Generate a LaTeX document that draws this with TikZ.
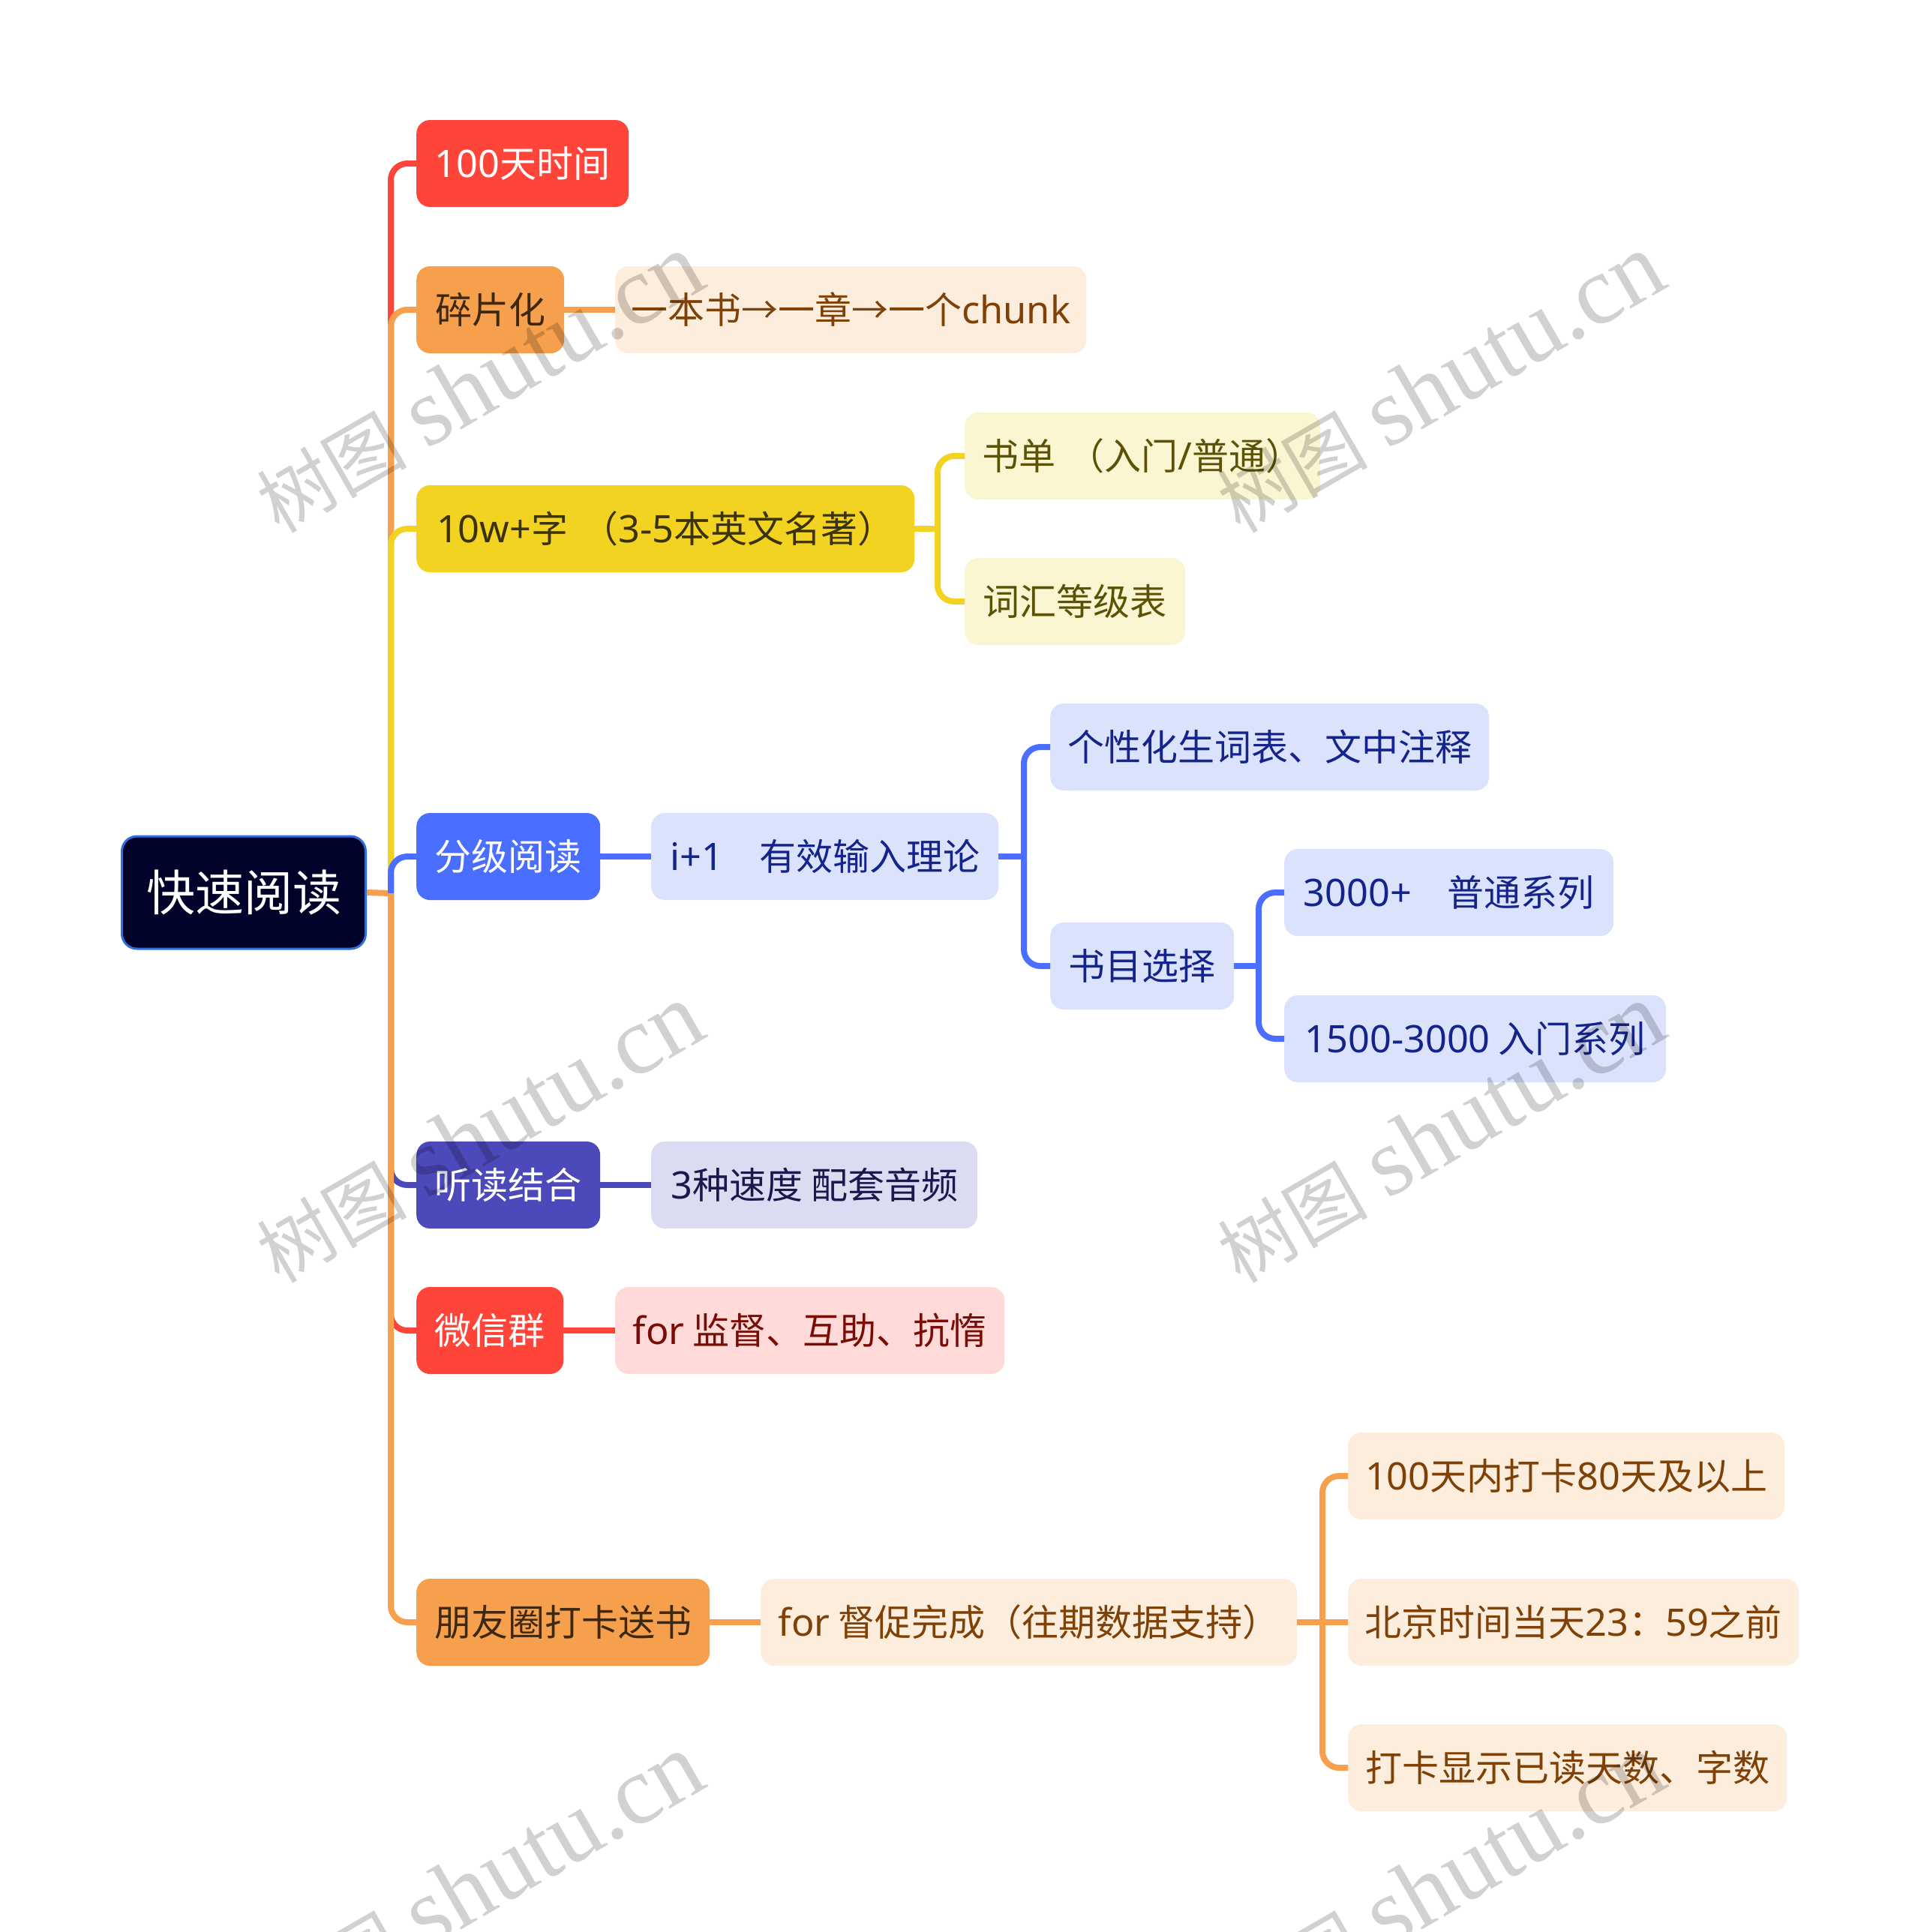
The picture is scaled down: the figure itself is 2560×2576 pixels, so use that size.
\documentclass[tikz,border=0pt]{standalone}
\usepackage{xcolor}
\usepackage{fontspec}
\usepackage{tikz}
\usetikzlibrary{positioning,calc}
\setmainfont{Noto Sans CJK SC}
\newfontfamily\latfont[Scale=1.03]{Noto Sans}
\newfontfamily\wmlatin{Liberation Serif}
\newcommand{\lat}[1]{{\latfont #1}}
\newcommand{\marktext}{{\fontsize{100}{110}\selectfont 树图}\hspace{26pt}{\wmlatin\fontsize{130}{140}\selectfont shutu.cn}}
\definecolor{rootfill}{HTML}{000229}
\definecolor{rootline}{HTML}{2F6FDD}
\definecolor{cred}{HTML}{FF453A}
\definecolor{corange}{HTML}{F6A04D}
\definecolor{cyellow}{HTML}{F3D321}
\definecolor{cblue}{HTML}{4A6EFF}
\definecolor{cindigo}{HTML}{4C49BA}
\definecolor{lred}{HTML}{FFDAD8}
\definecolor{lorange}{HTML}{FDEDDD}
\definecolor{lyellow}{HTML}{FBF6D2}
\definecolor{lblue}{HTML}{DBE2FC}
\definecolor{lindigo}{HTML}{DBDBF1}
\definecolor{tred}{HTML}{7A0C06}
\definecolor{torange}{HTML}{7F4106}
\definecolor{tyellow}{HTML}{5C5206}
\definecolor{tblue}{HTML}{14248C}
\definecolor{tindigo}{HTML}{1A184F}
\definecolor{dorange}{HTML}{3E2810}
\definecolor{dyellow}{HTML}{3B3307}
\tikzset{
  topic/.style={rectangle,rounded corners=18pt,inner sep=0pt,minimum height=116pt,anchor=west,font=\fontsize{49}{58}\selectfont},
  branch/.style={line width=8pt,rounded corners=22pt},
  mark text/.style={rotate=30,anchor=base,opacity=0.18,text=black}
}
\begin{document}
\begin{tikzpicture}[x=1pt,y=-1pt]
    \useasboundingbox (0,0) rectangle (2560,2576);
    \node[rectangle,rounded corners=20pt,draw=rootline,line width=3pt,fill=rootfill,text=white,inner sep=0pt,minimum width=325pt,minimum height=150pt,anchor=west,font=\fontsize{65}{76}\selectfont] (root) at (161,1190) {快速阅读};
    \node[topic,fill=cred,text=white,minimum width=283pt] (days) at (555,218) {\lat{100}天时间};
    \node[topic,fill=corange,text=dorange,minimum width=197pt] (chunks) at (555,413) {碎片化};
    \node[topic,fill=cyellow,text=dyellow,minimum width=664pt] (words) at (555,705) {\lat{10w+}字\hspace{18pt}（\lat{3-5}本英文名著）};
    \node[topic,fill=cblue,text=white,minimum width=245pt] (graded) at (555,1142) {分级阅读};
    \node[topic,fill=cindigo,text=white,minimum width=245pt] (listen) at (555,1580) {听读结合};
    \node[topic,fill=cred,text=white,minimum width=196pt] (wechat) at (555,1774) {微信群};
    \node[topic,fill=corange,text=dorange,minimum width=391pt] (moments) at (555,2163) {朋友圈打卡送书};
    \node[topic,fill=lorange,text=torange,minimum width=628pt] (book) at (820,413) {一本书→一章→一个\lat{chunk}};
    \node[topic,fill=lyellow,text=tyellow,minimum width=474pt] (booklist) at (1286,608) {书单\hspace{16pt}（入门\lat{/}普通）};
    \node[topic,fill=lyellow,text=tyellow,minimum width=294pt] (vocab) at (1286,802) {词汇等级表};
    \node[topic,fill=lblue,text=tblue,minimum width=463pt] (input) at (868,1142) {\lat{i+1}\hspace{48pt}有效输入理论};
    \node[topic,fill=lblue,text=tblue,minimum width=585pt] (notes) at (1400,996) {个性化生词表、文中注释};
    \node[topic,fill=lblue,text=tblue,minimum width=245pt] (select) at (1400,1288) {书目选择};
    \node[topic,fill=lblue,text=tblue,minimum width=439pt] (normal) at (1712,1190) {\lat{3000+}\hspace{48pt}普通系列};
    \node[topic,fill=lblue,text=tblue,minimum width=509pt] (entry) at (1712,1385) {\lat{1500-3000} 入门系列};
    \node[topic,fill=lindigo,text=tindigo,minimum width=435pt] (audio) at (868,1580) {\lat{3}种速度 配套音频};
    \node[topic,fill=lred,text=tred,minimum width=519pt] (forhelp) at (820,1774) {\lat{for} 监督、互助、抗惰};
    \node[topic,fill=lorange,text=torange,minimum width=715pt] (urge) at (1014,2163) {\lat{for} 督促完成（往期数据支持）};
    \node[topic,fill=lorange,text=torange,minimum width=582pt] (rule) at (1797,1968) {\lat{100}天内打卡\lat{80}天及以上};
    \node[topic,fill=lorange,text=torange,minimum width=601pt] (time) at (1797,2163) {北京时间当天\lat{23}：\lat{59}之前};
    \node[topic,fill=lorange,text=torange,minimum width=585pt] (show) at (1797,2357) {打卡显示已读天数、字数};
    \coordinate (trunk) at (521,1191);
    \coordinate (forkwords) at (1250,705);
    \coordinate (forkinput) at (1365,1142);
    \coordinate (forkselect) at (1678,1288);
    \coordinate (forkurge) at (1763,2163);
    \draw[branch,corange] (root.east) -- (trunk);
    \draw[branch,cred] (trunk) |- (days.west);
    \draw[branch,corange] (trunk) |- (chunks.west);
    \draw[branch,cyellow] (trunk) |- (words.west);
    \draw[branch,cblue] (trunk) |- (graded.west);
    \draw[branch,cindigo] (trunk) |- (listen.west);
    \draw[branch,cred] (trunk) |- (wechat.west);
    \draw[branch,corange] (trunk) |- (moments.west);
    \draw[branch,corange] (chunks.east) -- (book.west);
    \draw[branch,cyellow] (words.east) -- (forkwords);
    \draw[branch,cyellow] (forkwords) |- (booklist.west);
    \draw[branch,cyellow] (forkwords) |- (vocab.west);
    \draw[branch,cblue] (graded.east) -- (input.west);
    \draw[branch,cblue] (input.east) -- (forkinput);
    \draw[branch,cblue] (forkinput) |- (notes.west);
    \draw[branch,cblue] (forkinput) |- (select.west);
    \draw[branch,cblue] (select.east) -- (forkselect);
    \draw[branch,cblue] (forkselect) |- (normal.west);
    \draw[branch,cblue] (forkselect) |- (entry.west);
    \draw[branch,cindigo] (listen.east) -- (audio.west);
    \draw[branch,cred] (wechat.east) -- (forhelp.west);
    \draw[branch,corange] (moments.east) -- (urge.west);
    \draw[branch,corange] (urge.east) -- (time.west);
    \draw[branch,corange] (forkurge) |- (rule.west);
    \draw[branch,corange] (forkurge) |- (show.west);
    \begin{scope}
        \clip (0,0) rectangle (2560,2576);
        \node[mark text] (mark1) at (660,547) {\marktext};
        \node[mark text] (mark2) at (1941,547) {\marktext};
        \node[mark text] (mark3) at (660,1547) {\marktext};
        \node[mark text] (mark4) at (1941,1547) {\marktext};
        \node[mark text] (mark5) at (660,2547) {\marktext};
        \node[mark text] (mark6) at (1941,2547) {\marktext};
    \end{scope}
\end{tikzpicture}
\end{document}
